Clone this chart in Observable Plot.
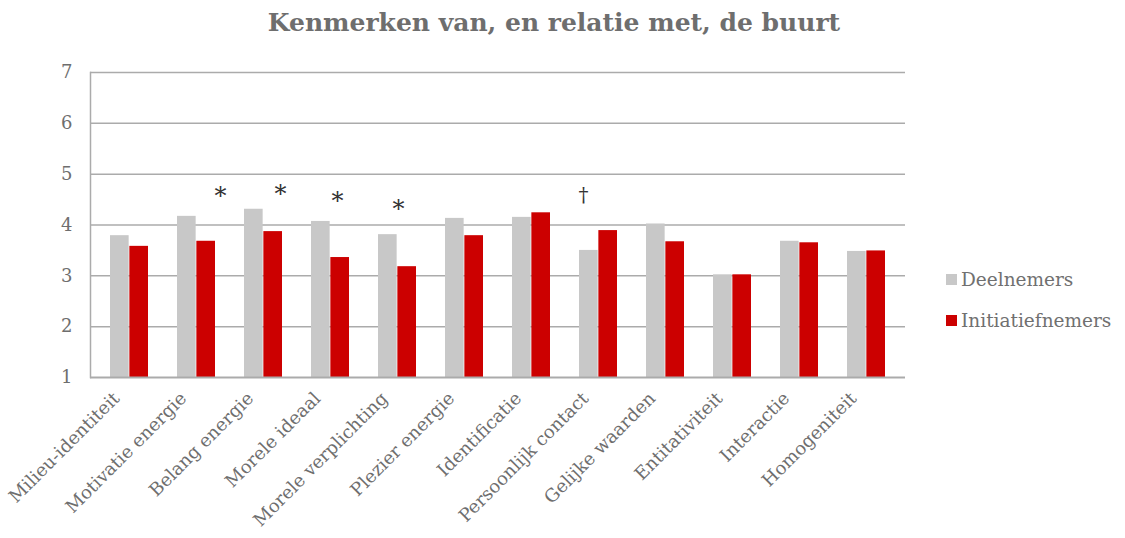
<!DOCTYPE html>
<html>
<head>
<meta charset="utf-8">
<script src="https://cdn.jsdelivr.net/npm/d3@7"></script>
<script src="https://cdn.jsdelivr.net/npm/@observablehq/plot@0.6"></script>
<style>
  html, body { margin: 0; padding: 0; background: #fff; }
  #wrap { position: relative; width: 1125px; height: 538px; overflow: hidden; font-family: "DejaVu Serif", serif; }
  #title { position: absolute; left: 0; top: 8px; width: 1108px; text-align: center; font-weight: bold; font-size: 25px; color: #6e6e6e; }
  #chart { position: absolute; left: 0; top: 45px; }
  #legend { position: absolute; left: 946px; top: 266px; font-size: 18.5px; color: #707070; }
  .li { display: flex; align-items: center; height: 26px; margin-bottom: 15px; }
  .sw { width: 11px; height: 11px; margin-right: 4px; }
</style>
</head>
<body>
<div id="wrap">
  <div id="title">Kenmerken van, en relatie met, de buurt</div>
  <div id="chart"></div>
  <div id="legend"></div>
</div>
<script>
const categories = ["Milieu-identiteit", "Motivatie energie", "Belang energie", "Morele ideaal", "Morele verplichting", "Plezier energie", "Identificatie", "Persoonlijk contact", "Gelijke waarden", "Entitativiteit", "Interactie", "Homogeniteit"];
const deelnemers = [3.79, 4.17, 4.31, 4.07, 3.81, 4.13, 4.15, 3.50, 4.02, 3.02, 3.68, 3.48];
const initiatiefnemers = [3.58, 3.68, 3.87, 3.36, 3.18, 3.79, 4.24, 3.89, 3.67, 3.02, 3.65, 3.49];
const seriesNames = ["Deelnemers", "Initiatiefnemers"];
const seriesColors = ["#c8c8c8", "#cc0000"];
const yTicks = [1, 2, 3, 4, 5, 6, 7];
const markCats = ["Motivatie energie", "Belang energie", "Morele ideaal", "Morele verplichting", "Persoonlijk contact"];
const markSymbols = ["*", "*", "*", "*", "†"];
const markLevels = [4.56, 4.60, 4.46, 4.31, 4.58];
const markShift = [24, 17, 7, 1, -15];

const W = 1125, H = 493, mL = 90, mR = 220, mT = 27, mB = 161;
const step = (W - mL - mR) / categories.length;
const pInner = 0.43;
const half = step * (1 - pInner) / 2;

const data = categories.map((c, i) => ({cat: c, d: deelnemers[i], r: initiatiefnemers[i]}));
const marks = markCats.map((c, i) => ({cat: c, sym: markSymbols[i], y: markLevels[i], dx: markShift[i], fs: markSymbols[i] === "*" ? 24 : 20}));

const gridC = "#ababab";
const textC = "#6e6e6e";

const plot = Plot.plot({
  width: W, height: H,
  marginLeft: mL, marginRight: mR, marginTop: mT, marginBottom: mB,
  style: {fontFamily: "DejaVu Serif, serif", background: "transparent"},
  x: {domain: categories, paddingInner: pInner, paddingOuter: pInner / 2, axis: null},
  y: {domain: [1, 7], axis: null},
  marks: [
    Plot.gridY(yTicks.slice(1), {stroke: gridC, strokeOpacity: 1, strokeWidth: 1.5}),
    Plot.barY(data, {x: "cat", y1: 1, y2: "d", fill: seriesColors[0], insetRight: half}),
    Plot.barY(data, {x: "cat", y1: 1, y2: "r", fill: seriesColors[1], insetLeft: half}),
    Plot.ruleY([1], {stroke: gridC, strokeWidth: 2}),
    Plot.frame({anchor: "left", stroke: gridC, strokeWidth: 1.5}),
    Plot.axisY(yTicks, {tickSize: 0, tickPadding: 18, fontSize: 18, fill: textC, color: textC, tickFormat: d => String(d), label: null}),
    Plot.axisX({tickRotate: -45, tickSize: 0, tickPadding: 18, dx: -13, fontSize: 18, fill: textC, color: textC, label: null}),
    ...marks.map(m => Plot.text([m], {x: "cat", y: "y", text: "sym", dx: m.dx, fontSize: m.fs, fill: "#333"}))
  ]
});
document.getElementById("chart").appendChild(plot);

const lg = document.getElementById("legend");
seriesNames.forEach((n, i) => {
  const row = document.createElement("div");
  row.className = "li";
  row.innerHTML = `<span class="sw" style="background:${seriesColors[i]}"></span><span>${n}</span>`;
  lg.appendChild(row);
});
</script>
</body>
</html>
